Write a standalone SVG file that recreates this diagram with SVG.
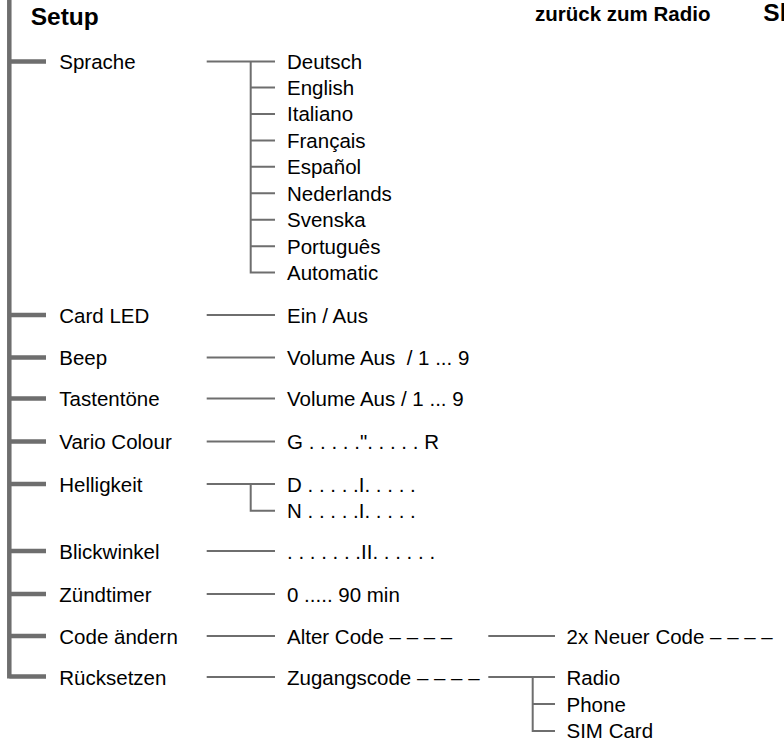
<svg xmlns="http://www.w3.org/2000/svg" width="784" height="741" viewBox="0 0 784 741">
<style>
text{font-family:"Liberation Sans",Arial,sans-serif;font-size:20.5px;fill:#000}
.h{font-weight:bold;font-size:24.5px}
.hb{font-weight:bold;font-size:20.5px}
.main{stroke:#6e6e6e;stroke-width:4.5;fill:none}
.ln{stroke:#6e6e6e;stroke-width:2;fill:none}
</style>
<rect width="784" height="741" fill="#fff"/>
<g id="connectors">
<path class="main" d="M9.3 0V678.5M9.3 61.5H46M9.3 315H46M9.3 357.5H46M9.3 398.5H46M9.3 441.5H46M9.3 484H46M9.3 551H46M9.3 594H46M9.3 636H46M9.3 676.5H46"/>
<path class="ln" d="M206.7 61.5H275M250.7 61.5V272.6H275M250.7 87.5H275M250.7 113.9H275M250.7 140.4H275M250.7 166.8H275M250.7 193.3H275M250.7 219.7H275M250.7 246.2H275"/>
<path class="ln" d="M206.7 315H275M206.7 357.5H275M206.7 398.5H275M206.7 441.5H275"/>
<path class="ln" d="M206.7 484H275M250.7 484V510.7H275"/>
<path class="ln" d="M206.7 551H275M206.7 594H275M206.7 636H275M206.7 677H275"/>
<path class="ln" d="M488.3 636H555"/>
<path class="ln" d="M488.3 677H555M532.7 677V731H555M532.7 704H555"/>
</g>
<g id="setup"><text class="h" x="30.7" y="24.5">Setup</text></g>
<g id="back"><text class="hb" x="535" y="20.7">zurück zum Radio</text></g>
<g id="sl"><text class="h" x="763.3" y="20.7">Sl</text></g>
<g id="sprache"><text x="59.3" y="69">Sprache</text></g>
<g id="deutsch"><text x="287" y="69">Deutsch</text></g>
<g id="english"><text x="287" y="95">English</text></g>
<g id="italiano"><text x="287" y="121.4">Italiano</text></g>
<g id="francais"><text x="287" y="147.9">Français</text></g>
<g id="espanol"><text x="287" y="174.3">Español</text></g>
<g id="nederlands"><text x="287" y="200.8">Nederlands</text></g>
<g id="svenska"><text x="287" y="227.2">Svenska</text></g>
<g id="portugues"><text x="287" y="253.7">Português</text></g>
<g id="automatic"><text x="287" y="280.1">Automatic</text></g>
<g id="cardled"><text x="59.3" y="322.5">Card LED</text></g>
<g id="einaus"><text x="287" y="322.5">Ein / Aus</text></g>
<g id="beep"><text x="59.3" y="365">Beep</text></g>
<g id="beepvol"><text x="287" y="365">Volume Aus&#160; / 1 ... 9</text></g>
<g id="tastentoene"><text x="59.3" y="406">Tastentöne</text></g>
<g id="tastvol"><text x="287" y="406">Volume Aus / 1 ... 9</text></g>
<g id="vario"><text x="59.3" y="449">Vario Colour</text></g>
<g id="variogr"><text x="287" y="449">G . . . . .". . . . . R</text></g>
<g id="helligkeit"><text x="59.3" y="491.5">Helligkeit</text></g>
<g id="hellD"><text x="287" y="491.5">D . . . . .I. . . . .</text></g>
<g id="hellN"><text x="287" y="518.2">N . . . . .I. . . . .</text></g>
<g id="blickwinkel"><text x="59.3" y="558.5">Blickwinkel</text></g>
<g id="blickval"><text x="287" y="558.5">. . . . . . .II. . . . . .</text></g>
<g id="zuendtimer"><text x="59.3" y="601.5">Zündtimer</text></g>
<g id="zuendval"><text x="287" y="601.5">0 ..... 90 min</text></g>
<g id="codeaendern"><text x="59.3" y="643.5">Code ändern</text></g>
<g id="altercode"><text x="287" y="643.5">Alter Code – – – –</text></g>
<g id="neuercode"><text x="566.5" y="643.5">2x Neuer Code –&#160;– –&#160;–</text></g>
<g id="ruecksetzen"><text x="59.3" y="684.5">Rücksetzen</text></g>
<g id="zugangscode"><text x="287" y="684.5">Zugangscode – – – –</text></g>
<g id="radio"><text x="566.5" y="684.5">Radio</text></g>
<g id="phone"><text x="566.5" y="711.5">Phone</text></g>
<g id="simcard"><text x="566.5" y="737.5">SIM Card</text></g>
</svg>
